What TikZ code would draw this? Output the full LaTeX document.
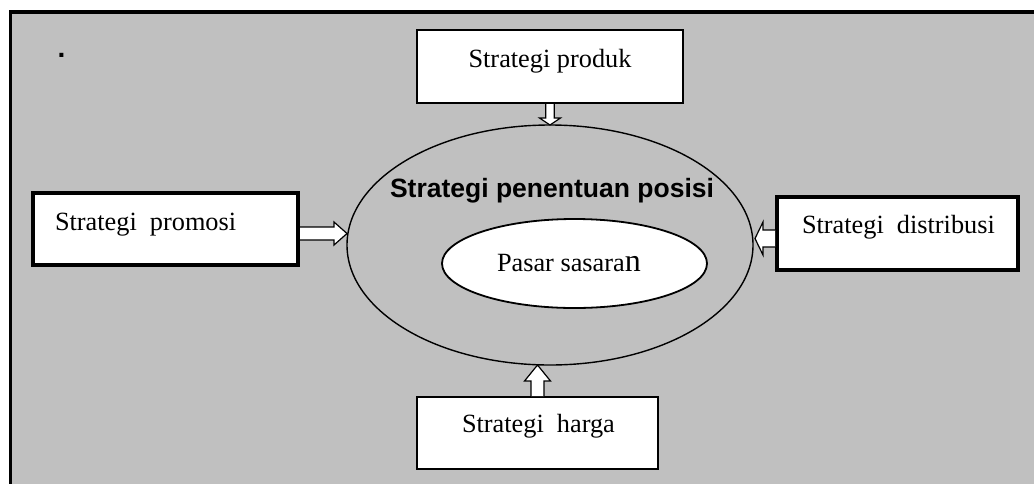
\documentclass[tikz,border=0pt]{standalone}
\usepackage{fontspec}
\setmainfont{Liberation Serif}
\setsansfont{Liberation Sans}
\usetikzlibrary{shapes.geometric,calc}
\definecolor{panel}{HTML}{C0C0C0}

\begin{document}
\begin{tikzpicture}[x=1pt,y=-1pt,
  box/.style={draw, fill=white, rectangle, inner sep=0pt, outer sep=0pt},
  lbl/.style={inner sep=0pt, outer sep=0pt, font=\fontsize{26.3}{30}\selectfont},
  blk/.style={draw, fill=white, line width=1.2pt, line join=miter},
]
\useasboundingbox (0,0) rectangle (1034,483);
\fill[white] (0,0) rectangle (1034,483);

% grey panel with a heavy frame on top and left
\begin{scope}
  \clip (0,0) rectangle (1034,483);
  \filldraw[fill=panel, line width=3.6pt] (10.3,11.7) rectangle (1060,510);
\end{scope}

% stray full stop in the corner
\node[inner sep=0pt, outer sep=0pt, anchor=base west,
      font=\sffamily\bfseries\fontsize{28}{28}\selectfont] (dot) at (57.5,57.5) {.};

% central ellipses
\node[draw, ellipse, line width=1.4pt, inner sep=0pt, outer sep=0pt,
      minimum width=406pt, minimum height=240pt] (pos) at (550,245) {};
\node[draw, fill=white, ellipse, line width=1.8pt, inner sep=0pt, outer sep=0pt,
      minimum width=265pt, minimum height=89pt] (pasar) at (574.5,263.5) {};
\node[inner sep=0pt, outer sep=0pt, anchor=base,
      font=\sffamily\bfseries\fontsize{26.5}{30}\selectfont] (title) at (552,197)
      {Strategi penentuan posisi};
\node[lbl, anchor=base west] (pasartext) at (497,271)
      {Pasar sasara{\fontsize{32}{32}\selectfont n}};

% surrounding strategy boxes
\node[box, line width=2.4pt, minimum width=266pt, minimum height=73pt] (produk) at (550,66.5) {};
\node[box, line width=4pt, minimum width=265pt, minimum height=72pt] (promosi) at (165.5,229) {};
\node[box, line width=4pt, minimum width=241pt, minimum height=73pt] (distribusi) at (897.5,233.5) {};
\node[box, line width=2pt, minimum width=241pt, minimum height=72pt] (harga) at (537.5,433) {};

% block arrows into the ellipse
% produk -> ellipse (downwards)
\coordinate (pa) at (produk.south);
\coordinate (pb) at (pos.north);
\draw[blk] ($(pa)+(-4.3,1.2)$) -- ($(pb)+(-4.3,-7)$) -- ($(pb)+(-10.5,-7)$) -- (pb)
  -- ($(pb)+(10.5,-7)$) -- ($(pb)+(4.3,-7)$) -- ($(pa)+(4.3,1.2)$);

% harga -> ellipse (upwards)
\coordinate (ha) at (harga.north);
\coordinate (hb) at (harga.north |- pos.south);
\draw[blk] ($(ha)+(-6.5,-1)$) -- ($(hb)+(-6.5,16)$) -- ($(hb)+(-13,16)$) -- (hb)
  -- ($(hb)+(13,16)$) -- ($(hb)+(6.5,16)$) -- ($(ha)+(6.5,-1)$);

% promosi -> ellipse (rightwards)
\coordinate (ra) at ($(promosi.east)+(2,4.5)$);
\coordinate (rb) at (ra -| pos.west);
\draw[blk] ($(ra)+(0,-6.5)$) -- ($(rb)+(-13,-6.5)$) -- ($(rb)+(-13,-11.5)$) -- (rb)
  -- ($(rb)+(-13,11.5)$) -- ($(rb)+(-13,6.5)$) -- ($(ra)+(0,6.5)$);

% distribusi -> ellipse (leftwards)
\coordinate (da) at ($(distribusi.west)+(-2,5)$);
\coordinate (db) at ($(da -| pos.east)+(2,0)$);
\draw[blk] ($(da)+(0,-8.5)$) -- ($(db)+(8,-8.5)$) -- ($(db)+(8,-16.5)$) -- (db)
  -- ($(db)+(8,16.5)$) -- ($(db)+(8,8.5)$) -- ($(da)+(0,8.5)$);

% box captions
\node[lbl, anchor=base] (produktext) at (550,67) {Strategi produk};
\node[lbl, anchor=base west] (promositext) at (55,230) {Strategi\ \ promosi};
\node[lbl, anchor=base west] (distribusitext) at (802,233) {Strategi\ \ distribusi};
\node[lbl, anchor=base west] (hargatext) at (462,432) {Strategi\ \ harga};
\end{tikzpicture}
\end{document}
